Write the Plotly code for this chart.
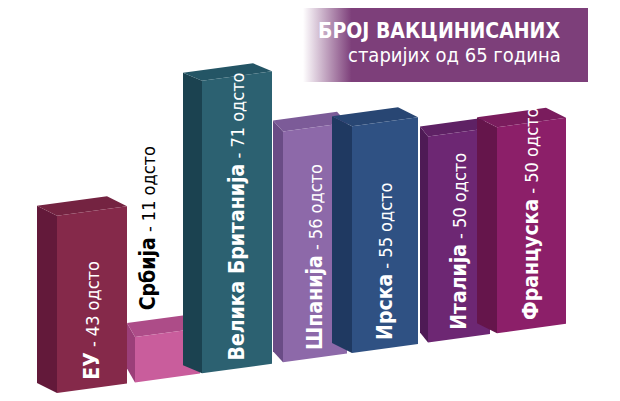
import plotly.graph_objects as go

# data
countries = ["ЕУ", "Србија", "Велика Британија", "Шпанија", "Ирска", "Италија", "Француска"]
values = [43, 11, 71, 56, 55, 50, 50]
unit = "одсто"
title = "БРОЈ ВАКЦИНИСАНИХ"
subtitle = "старијих од 65 година"

# layout of the fake 3d bars (pixel positions on a 620x401 canvas)
front_left = [57, 135, 202, 283, 352, 428, 497]
front_right = [127, 200, 272, 347, 418, 490, 566]
side_dx = [20, 8, 19, 10, 20, 8, 20]
top_dy = [10, 14, 8, 11, 10, 10, 10]
colors = [  # front, side, top
    ("#85294a", "#63193a", "#742341"),
    ("#c95d9c", "#9b3f79", "#ad4c88"),
    ("#2c6171", "#1b4250", "#245565"),
    ("#8d69a9", "#6a4c86", "#7c5b98"),
    ("#2f5183", "#1f3961", "#284673"),
    ("#6d2773", "#4e1a55", "#5e2164"),
    ("#8c1f69", "#65154b", "#7a1c5d"),
]
label_color = ["white", "black", "white", "white", "white", "white", "white"]

W, H = 620, 401
K = 4.12          # pixels per percent
PX = 1 / K        # percent per pixel
BASE_PIX = 393    # pixel row of ground at x = X0
X0 = 57
TILT = 0.136      # ground rises to the right
FONT = "Liberation Sans Narrow, DejaVu Sans Condensed, Arial Narrow, sans-serif"


def ground(x):
    return TILT * (x - X0) * PX


def pix(p):
    # pixel row -> y value
    return (BASE_PIX - p) * PX


def poly(fig, xs, ys, color):
    fig.add_trace(go.Scatter(x=xs + [xs[0]], y=ys + [ys[0]], mode="lines",
                             fill="toself", fillcolor=color, line=dict(width=0),
                             hoverinfo="skip", showlegend=False))


fig = go.Figure()

# title banner with a fade on the left
fig.add_trace(go.Scatter(x=[303, 588, 588, 303, 303],
                         y=[pix(8), pix(8), pix(82), pix(82), pix(8)],
                         mode="lines", fill="toself", line=dict(width=0),
                         fillgradient=dict(type="horizontal",
                                           colorscale=[[0, "rgba(125,63,122,0)"],
                                                       [0.17, "#7d3f7a"],
                                                       [1, "#7d3f7a"]]),
                         hoverinfo="skip", showlegend=False))

for i, v in enumerate(values):
    L, R, dx, dy = front_left[i], front_right[i], side_dx[i], top_dy[i]
    gl, gr = ground(L), ground(R)
    d = dy * PX
    front, side, top = colors[i]
    poly(fig, [L - dx, L, L, L - dx], [gl + d, gl, gl + v, gl + v + d], side)
    poly(fig, [L, R, R - dx, L - dx], [gl + v, gr + v, gr + v + d, gl + v + d], top)
    poly(fig, [L, R, R, L], [gl, gr, gr + v, gl + v], front)

    txt = ('<span style="font-size:21px"><b>%s</b></span>'
           '<span style="font-size:18px"> - %d %s</span>') % (countries[i], v, unit)
    if v > 20:
        cx = (L + R) / 2
        cy = ground(cx) + 6 * PX
    else:
        cx = L + 13
        cy = ground(cx) + v + (dy + 9) * PX
    fig.add_annotation(x=cx, y=cy, text=txt, textangle=-90, showarrow=False,
                       xanchor="center", yanchor="bottom",
                       font=dict(family=FONT, size=20, color=label_color[i]))

fig.add_annotation(x=562, y=pix(31), text="<b>" + title + "</b>", showarrow=False,
                   xanchor="right", yanchor="middle",
                   font=dict(family=FONT, size=21, color="white"))
fig.add_annotation(x=563, y=pix(55), text=subtitle, showarrow=False,
                   xanchor="right", yanchor="middle",
                   font=dict(family=FONT, size=20, color="white"))

fig.update_layout(
    width=W, height=H,
    margin=dict(l=0, r=0, t=0, b=0),
    plot_bgcolor="white", paper_bgcolor="white",
    xaxis=dict(range=[0, W], visible=False, fixedrange=True),
    yaxis=dict(range=[pix(H), pix(0)], visible=False, fixedrange=True),
)

# drop the default body margin so the figure sits at the window corner
fig.write_html("out.html", config={"displayModeBar": False},
               post_script="document.body.style.margin='0';")
